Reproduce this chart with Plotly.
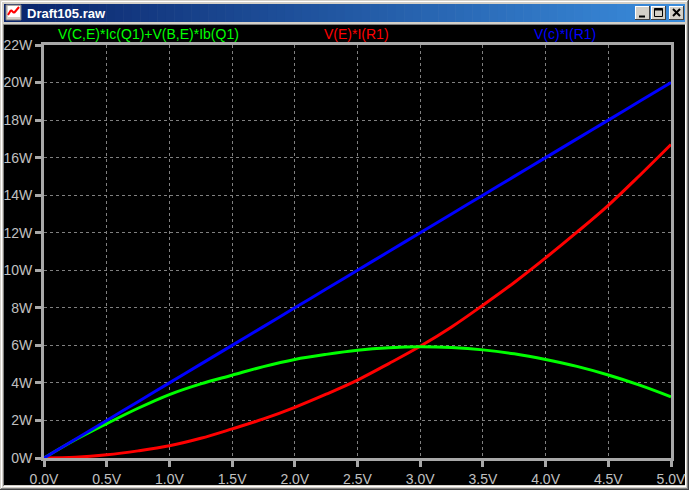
import plotly.graph_objects as go

# ---- data ----
volts = [0.0, 0.25, 0.5, 0.75, 1.0, 1.25, 1.5, 1.75, 2.0, 2.25, 2.5,
         2.75, 3.0, 3.25, 3.5, 3.75, 4.0, 4.25, 4.5, 4.75, 5.0]
p_vc_ir1 = [0.0, 1.0, 2.0, 3.0, 4.0, 5.0, 6.0, 7.0, 8.0, 9.0, 10.0,
            11.0, 12.0, 13.0, 14.0, 15.0, 16.0, 17.0, 18.0, 19.0, 20.0]
p_q1 = [0.0, 0.97, 1.83, 2.65, 3.38, 3.95, 4.41, 4.87, 5.25, 5.52, 5.74,
        5.87, 5.92, 5.88, 5.76, 5.55, 5.25, 4.88, 4.42, 3.88, 3.26]
p_ve_ir1 = [0.0, 0.04, 0.17, 0.38, 0.65, 1.05, 1.55, 2.08, 2.70, 3.40, 4.15,
            5.03, 5.95, 6.98, 8.14, 9.35, 10.66, 12.03, 13.46, 15.05, 16.70]

x_ticks = [0.0, 0.5, 1.0, 1.5, 2.0, 2.5, 3.0, 3.5, 4.0, 4.5, 5.0]
x_tick_labels = ["0.0V", "0.5V", "1.0V", "1.5V", "2.0V", "2.5V",
                 "3.0V", "3.5V", "4.0V", "4.5V", "5.0V"]
y_ticks = [0, 2, 4, 6, 8, 10, 12, 14, 16, 18, 20, 22]
y_tick_labels = ["0W", "2W", "4W", "6W", "8W", "10W", "12W",
                 "14W", "16W", "18W", "20W", "22W"]

trace_names = ["V(C,E)*Ic(Q1)+V(B,E)*Ib(Q1)", "V(E)*I(R1)", "V(c)*I(R1)"]
trace_colors = ["#00ff00", "#ff0000", "#0000ff"]
window_title = "Draft105.raw"

# ---- geometry helpers (pixel -> paper) ----
W, H = 689, 490
L, R, T, B = 44, 18, 45, 32
PW, PH = W - L - R, H - T - B


def px(x):
    return (x - L) / PW


def py(y):
    return (H - B - y) / PH


def rect(x0, y0, x1, y1, fill, line_color=None, line_width=0, layer="below"):
    return dict(type="rect", xref="paper", yref="paper",
                x0=px(x0), x1=px(x1), y0=py(y1), y1=py(y0),
                fillcolor=fill, layer=layer,
                line=dict(color=line_color or fill, width=line_width))


def seg(x0, y0, x1, y1, color, width=1, layer="above"):
    return dict(type="line", xref="paper", yref="paper",
                x0=px(x0), x1=px(x1), y0=py(y0), y1=py(y1),
                layer=layer, line=dict(color=color, width=width))


fig = go.Figure()
for name, ys, col in [(trace_names[1], p_ve_ir1, trace_colors[1]),
                      (trace_names[0], p_q1, trace_colors[0]),
                      (trace_names[2], p_vc_ir1, trace_colors[2])]:
    fig.add_trace(go.Scatter(x=volts, y=ys, mode="lines", name=name,
                             line=dict(color=col, width=3, shape="spline"),
                             hoverinfo="skip"))

shapes = []
# window frame
shapes.append(rect(0, 0, W, H, "#d4d0c8"))
shapes.append(seg(1.5, 1.5, W - 1.5, 1.5, "#ffffff", 1, "below"))
shapes.append(seg(1.5, 1.5, 1.5, H - 1.5, "#ffffff", 1, "below"))
shapes.append(seg(W - 0.5, 0, W - 0.5, H, "#404040", 1, "below"))
shapes.append(seg(0, H - 0.5, W, H - 0.5, "#404040", 1, "below"))
shapes.append(seg(W - 1.5, 1, W - 1.5, H - 1, "#808080", 1, "below"))
shapes.append(seg(1, H - 1.5, W - 1, H - 1.5, "#808080", 1, "below"))

# title bar gradient
c0 = (10, 36, 106)
c1 = (58, 140, 220)
n = 80
tx0, tx1 = 4, 685
for i in range(n):
    f = i / (n - 1)
    c = tuple(int(round(c0[k] + (c1[k] - c0[k]) * f)) for k in range(3))
    xa = tx0 + (tx1 - tx0) * i / n
    xb = tx0 + (tx1 - tx0) * (i + 1) / n + 0.6
    shapes.append(rect(xa, 4, min(xb, tx1), 22, "rgb(%d,%d,%d)" % c))

# icon
shapes.append(rect(6, 5, 21, 20, "#d4d0c8", "#808080", 1))
shapes.append(rect(8, 6, 20, 17, "#ffffff"))
shapes.append(seg(8, 15, 11, 10, "#ff0000", 2, "below"))
shapes.append(seg(11, 10, 14, 13, "#ff0000", 2, "below"))
shapes.append(seg(14, 13, 19, 7, "#ff0000", 2, "below"))

# buttons
for bx0, bx1 in [(635, 650), (651, 666), (669, 684)]:
    shapes.append(rect(bx0, 6, bx1, 20, "#d4d0c8"))
    shapes.append(seg(bx0, 6.5, bx1, 6.5, "#ffffff", 1, "below"))
    shapes.append(seg(bx0 + 0.5, 6, bx0 + 0.5, 20, "#ffffff", 1, "below"))
    shapes.append(seg(bx0, 19.5, bx1, 19.5, "#404040", 1, "below"))
    shapes.append(seg(bx1 - 0.5, 6, bx1 - 0.5, 20, "#404040", 1, "below"))
# minimize glyph
shapes.append(seg(639, 16.5, 645, 16.5, "#000000", 2, "below"))
# maximize glyph
shapes.append(rect(654.5, 8.5, 662.5, 16.5, "rgba(0,0,0,0)", "#000000", 1))
shapes.append(seg(654.5, 9.5, 662.5, 9.5, "#000000", 2, "below"))
# close glyph
shapes.append(seg(673, 9, 680, 16, "#000000", 2, "below"))
shapes.append(seg(680, 9, 673, 16, "#000000", 2, "below"))

# black pane with sunken border
shapes.append(rect(4, 25, 685, 485, "#000000"))
shapes.append(seg(3.5, 24.5, 685, 24.5, "#808080", 1, "below"))
shapes.append(seg(3.5, 24.5, 3.5, 486, "#808080", 1, "below"))
shapes.append(seg(3.5, 486.5, 686, 486.5, "#ffffff", 1, "below"))
shapes.append(seg(685.5, 24.5, 685.5, 486.5, "#ffffff", 1, "below"))

annotations = [
    dict(text="<b>" + window_title + "</b>", x=px(25), y=py(13),
         xref="paper", yref="paper", xanchor="left", yanchor="middle",
         showarrow=False,
         font=dict(family="Liberation Sans", size=13, color="#ffffff")),
]
legend_x = [148, 356, 565]
for name, col, cx in zip(trace_names, trace_colors, legend_x):
    annotations.append(dict(text=name, x=px(cx), y=py(34), xref="paper",
                            yref="paper", xanchor="center", yanchor="middle",
                            showarrow=False,
                            font=dict(family="Liberation Sans", size=14,
                                      color=col)))

axis_gray = "#a8a8a8"
label_gray = "#c0c0c0"
axis_common = dict(showgrid=True, gridcolor="#808080", gridwidth=1,
                   griddash="3px,3px", zeroline=False,
                   showline=True, linecolor=axis_gray, linewidth=3,
                   mirror=True, ticks="outside", ticklen=6, tickwidth=3,
                   tickcolor=axis_gray, automargin=False,
                   tickfont=dict(family="Liberation Sans", size=14,
                                 color=label_gray),
                   fixedrange=True)
fig.update_layout(
    width=W, height=H,
    margin=dict(l=L, r=R, t=T, b=B, pad=0, autoexpand=False),
    paper_bgcolor="#d4d0c8",
    plot_bgcolor="#000000",
    showlegend=False,
    shapes=shapes,
    annotations=annotations,
    font=dict(family="Liberation Sans", size=13, color=label_gray),
    xaxis=dict(range=[0, 5], tickvals=x_ticks, ticktext=x_tick_labels,
               **axis_common),
    yaxis=dict(range=[0, 22], tickvals=y_ticks, ticktext=y_tick_labels,
               **axis_common),
)

fig.write_html("out.html", config=dict(displayModeBar=False),
               post_script="document.body.style.margin='0px';"
                           "document.body.style.overflow='hidden';")
